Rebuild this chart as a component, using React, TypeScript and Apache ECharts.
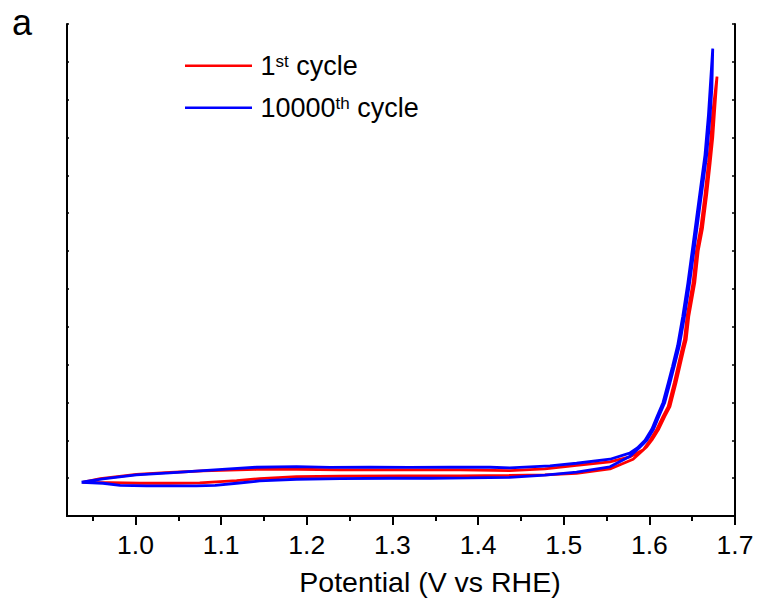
import React, { useEffect, useRef } from "react";
import * as echarts from "echarts";

// Potential (V vs RHE) and current (arbitrary units, axis unlabeled)
const firstCycleV = [
  0.938, 0.959, 1.001, 1.040, 1.079, 1.141, 1.188, 1.239, 1.309, 1.379, 1.437, 1.478, 1.515, 1.554, 1.577,
  1.593, 1.601, 1.609, 1.616, 1.622, 1.629, 1.634, 1.638, 1.641, 1.644, 1.651, 1.655, 1.660, 1.665, 1.669,
  1.672, 1.674, 1.679,
  1.676, 1.674, 1.671, 1.667, 1.662, 1.657, 1.653, 1.646, 1.643, 1.640, 1.636, 1.631, 1.624, 1.618, 1.611,
  1.603, 1.597, 1.581, 1.554, 1.515, 1.478, 1.437, 1.379, 1.309, 1.239, 1.188, 1.145, 1.118, 1.075, 1.040,
  1.005, 0.970, 0.938,
];
const firstCycleJ = [
  0.886, 0.990, 1.100, 1.150, 1.190, 1.230, 1.235, 1.217, 1.217, 1.217, 1.198, 1.243, 1.336, 1.428, 1.560,
  1.750, 2.010, 2.300, 2.630, 2.890, 3.510, 4.000, 4.390, 4.660, 5.270, 6.160, 7.000, 7.600, 8.500, 9.330,
  10.000, 10.650, 11.610,
  10.650, 10.000, 9.330, 8.500, 7.600, 7.000, 6.160, 5.270, 4.660, 4.390, 4.000, 3.510, 2.890, 2.630, 2.300,
  2.010, 1.830, 1.500, 1.243, 1.124, 1.085, 1.071, 1.058, 1.058, 1.050, 1.040, 0.990, 0.934, 0.873, 0.865,
  0.865, 0.881, 0.886,
];

const cycle10000V = [
  0.937, 0.962, 1.001, 1.040, 1.079, 1.110, 1.141, 1.188, 1.227, 1.274, 1.320, 1.367, 1.414, 1.437, 1.484,
  1.515, 1.554, 1.577, 1.586, 1.595, 1.603, 1.609, 1.616, 1.622, 1.627, 1.633, 1.639, 1.645, 1.650, 1.655,
  1.660, 1.665, 1.669, 1.671, 1.674,
  1.673, 1.671, 1.667, 1.662, 1.657, 1.652, 1.647, 1.641, 1.635, 1.629, 1.624, 1.618, 1.611, 1.605, 1.597,
  1.588, 1.577, 1.554, 1.515, 1.478, 1.437, 1.390, 1.344, 1.297, 1.239, 1.188, 1.145, 1.118, 1.093, 1.071,
  1.040, 1.013, 0.982, 0.962, 0.937,
];
const cycle10000J = [
  0.892, 0.979, 1.085, 1.138, 1.198, 1.243, 1.288, 1.304, 1.283, 1.288, 1.283, 1.288, 1.288, 1.270, 1.323,
  1.394, 1.500, 1.660, 1.800, 2.000, 2.300, 2.630, 3.000, 3.510, 3.950, 4.500, 5.270, 6.160, 7.000, 7.850,
  8.700, 9.550, 10.600, 11.300, 12.350,
  11.300, 10.600, 9.550, 8.700, 7.850, 7.000, 6.160, 5.270, 4.500, 3.950, 3.510, 3.000, 2.630, 2.300, 2.000,
  1.800, 1.570, 1.300, 1.160, 1.080, 1.020, 1.005, 0.997, 0.997, 0.990, 0.971, 0.926, 0.865, 0.807, 0.794,
  0.794, 0.794, 0.807, 0.865, 0.892,
];

const xMajorTicks = [1.0, 1.1, 1.2, 1.3, 1.4, 1.5, 1.6, 1.7];
const xMinorTicks = [0.95, 1.05, 1.15, 1.25, 1.35, 1.45, 1.55, 1.65];

const FONT = "'Liberation Sans', Arial, Helvetica, sans-serif";

const zip = (xs: number[], ys: number[]) => xs.map((x, i) => [x, ys[i]]);

export default function App() {
  const ref = useRef<HTMLDivElement>(null);

  useEffect(() => {
    if (!ref.current) return;
    const chart = echarts.init(ref.current, undefined, { renderer: "svg" });
    const axisLine = { show: true, lineStyle: { color: "#000", width: 2 } };
    chart.setOption({
      animation: false,
      backgroundColor: "#fff",
      grid: { left: 67, right: 24, top: 24, bottom: 87, containLabel: false, outerBoundsMode: "none" },
      xAxis: [
        {
          type: "value",
          position: "bottom",
          min: 0.92,
          max: 1.7,
          name: "Potential (V vs RHE)",
          nameLocation: "middle",
          nameGap: 51,
          nameTextStyle: { fontFamily: FONT, fontSize: 28.5, color: "#000", padding: [0, 0, 0, 58] },
          axisLine,
          axisTick: { show: true, inside: false, length: 9, lineStyle: { width: 2, color: "#000" }, customValues: xMajorTicks },
          axisLabel: {
            show: true,
            margin: 15,
            fontFamily: FONT,
            fontSize: 26.5,
            color: "#000",
            customValues: xMajorTicks,
            formatter: (v: number) => v.toFixed(1),
          },
          splitLine: { show: false },
        },
        {
          type: "value",
          position: "top",
          min: 0.92,
          max: 1.7,
          axisLine,
          axisTick: { show: false },
          axisLabel: { show: false },
          splitLine: { show: false },
        },
        {
          type: "value",
          position: "bottom",
          min: 0.92,
          max: 1.7,
          axisLine: { show: false },
          axisTick: { show: true, inside: false, length: 5, lineStyle: { width: 2, color: "#000" }, customValues: xMinorTicks },
          axisLabel: { show: false },
          splitLine: { show: false },
        },
      ],
      yAxis: [
        {
          type: "value",
          position: "left",
          min: 0,
          max: 13,
          interval: 1,
          axisLine,
          axisTick: { show: true, inside: true, length: 2, lineStyle: { width: 1.5, color: "#000" } },
          axisLabel: { show: false },
          splitLine: { show: false },
        },
        {
          type: "value",
          position: "right",
          min: 0,
          max: 13,
          interval: 1,
          axisLine,
          axisTick: { show: true, inside: true, length: 3, lineStyle: { width: 1.5, color: "#000" } },
          axisLabel: { show: false },
          splitLine: { show: false },
        },
      ],
      series: [
        {
          name: "1st cycle",
          type: "line",
          xAxisIndex: 0,
          yAxisIndex: 0,
          data: zip(firstCycleV, firstCycleJ),
          showSymbol: false,
          lineStyle: { color: "#ff0000", width: 2.8 },
          itemStyle: { color: "#ff0000" },
        },
        {
          name: "10000th cycle",
          type: "line",
          xAxisIndex: 0,
          yAxisIndex: 0,
          data: zip(cycle10000V, cycle10000J),
          showSymbol: false,
          lineStyle: { color: "#0000ff", width: 2.8 },
          itemStyle: { color: "#0000ff" },
        },
      ],
      graphic: [
        {
          type: "text",
          x: 12,
          y: 22,
          style: { text: "a", fontFamily: FONT, fontSize: 36, fill: "#000", verticalAlign: "middle", align: "left" },
        },
        {
          type: "line",
          shape: { x1: 185, y1: 65.7, x2: 252, y2: 65.7 },
          style: { stroke: "#ff0000", lineWidth: 2.6 },
        },
        {
          type: "line",
          shape: { x1: 185, y1: 107.7, x2: 252, y2: 107.7 },
          style: { stroke: "#0000ff", lineWidth: 2.6 },
        },
        {
          type: "text",
          x: 260.5,
          y: 66,
          style: {
            text: "1{sup|st} cycle",
            fontFamily: FONT,
            fontSize: 27,
            fill: "#000",
            verticalAlign: "middle",
            align: "left",
            rich: {
              sup: { fontFamily: FONT, fontSize: 17, verticalAlign: "top", fill: "#000" },
            },
          },
        },
        {
          type: "text",
          x: 260.5,
          y: 108,
          style: {
            text: "10000{sup|th} cycle",
            fontFamily: FONT,
            fontSize: 27,
            fill: "#000",
            verticalAlign: "middle",
            align: "left",
            rich: {
              sup: { fontFamily: FONT, fontSize: 17, verticalAlign: "top", fill: "#000" },
            },
          },
        },
      ],
    });
    return () => chart.dispose();
  }, []);

  return (
    <div
      ref={ref}
      style={{ position: "absolute", left: 0, top: 0, width: 759, height: 603, background: "#fff" }}
    />
  );
}
